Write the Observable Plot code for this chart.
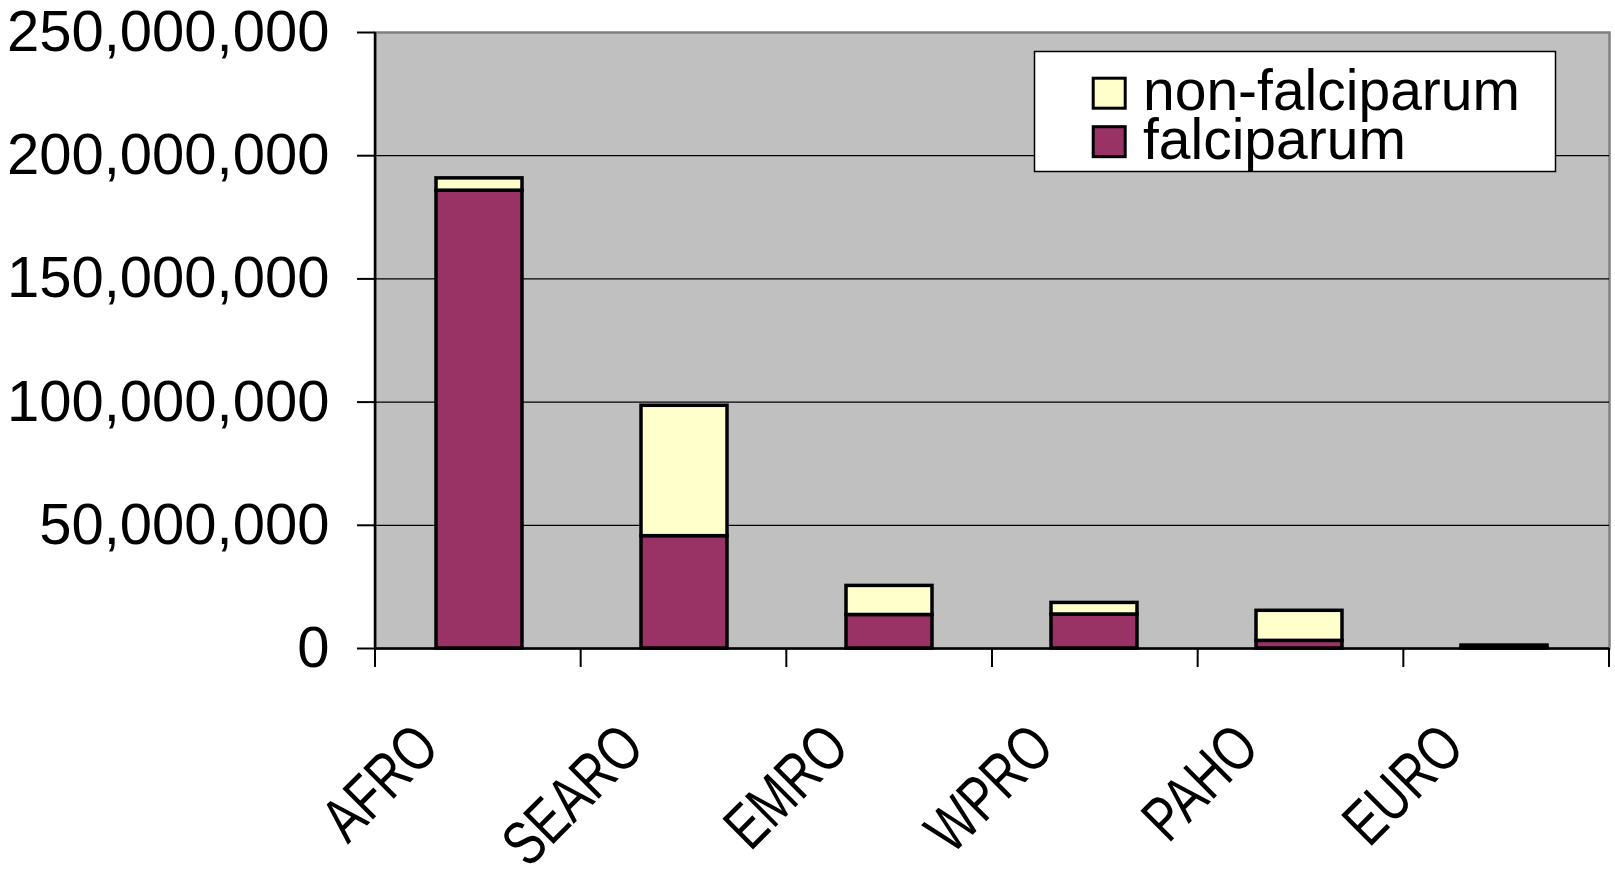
<!DOCTYPE html>
<html>
<head>
<meta charset="utf-8">
<script src="https://cdn.jsdelivr.net/npm/d3@7"></script>
<script src="https://cdn.jsdelivr.net/npm/@observablehq/plot@0.6"></script>
<style>
  html, body { margin: 0; padding: 0; background: #fff; }
  #chart svg { display: block; }
</style>
</head>
<body>
<div id="chart"></div>
<script>
// Estimated malaria cases by WHO region, split by parasite species
const regions = ["AFRO", "SEARO", "EMRO", "WPRO", "PAHO", "EURO"];
const falciparum = [185.8e6, 45.6e6, 13.6e6, 13.8e6, 3.1e6, 0.2e6];
const nonFalciparum = [5.0e6, 52.9e6, 11.8e6, 4.7e6, 12.2e6, 1.0e6];
const species = ["falciparum", "non-falciparum"];
const speciesColors = ["#993366", "#FFFFCC"];
const yTicks = [0, 50e6, 100e6, 150e6, 200e6, 250e6];
const legendOrder = ["non-falciparum", "falciparum"];

// long format table for the stacked bars
const rows = regions.flatMap((region, i) => [
  {region, species: species[0], cases: falciparum[i]},
  {region, species: species[1], cases: nonFalciparum[i]}
]);

const chart = Plot.plot({
  width: 1615,
  height: 875,
  marginTop: 32,
  marginBottom: 227,
  marginLeft: 375,
  marginRight: 6,
  style: {
    fontFamily: "'Liberation Sans', Arial, sans-serif",
    fontSize: "58px",
    background: "#fff",
    color: "#000"
  },
  x: {domain: regions, paddingInner: 0.58, paddingOuter: 0.29, label: null, axis: null},
  y: {domain: [0, 250e6], label: null, axis: null},
  color: {domain: species, range: speciesColors},
  marks: [
    Plot.frame({fill: "#c0c0c0", stroke: "#808080", strokeWidth: 2.5}),
    Plot.ruleY(yTicks.slice(1, -1), {stroke: "#000", strokeWidth: 1.2}),
    Plot.barY(rows, {x: "region", y: "cases", fill: "species", stroke: "#000", strokeWidth: 3.5}),
    Plot.ruleY([0], {stroke: "#000", strokeWidth: 2.5}),
    Plot.axisY({
      ticks: yTicks,
      tickFormat: d3.format(","),
      tickSize: 18,
      tickPadding: 28,
      strokeWidth: 2,
      fontSize: 58,
      label: null
    }),
    Plot.text(regions, {
      x: d => d,
      text: d => d,
      frameAnchor: "bottom",
      rotate: -45,
      textAnchor: "end",
      lineAnchor: "middle",
      dx: -52,
      dy: 88,
      fontSize: 63
    })
  ]
});

const svg = d3.select(chart);

// narrow the slanted category labels along their baseline
svg.selectAll('g[aria-label="text"] text').attr("transform", function () {
  return (this.getAttribute("transform") || "") + " scale(0.76,1)";
});

const xr = chart.scale("x").range;
const yr = chart.scale("y").range;
const x0 = Math.min(...xr), x1 = Math.max(...xr);
const yBottom = Math.max(...yr), yTop = Math.min(...yr);
const step = (x1 - x0) / regions.length;

// left value axis line and category separator ticks
const axes = svg.append("g").attr("stroke", "#000");
axes.append("line")
  .attr("x1", x0).attr("x2", x0)
  .attr("y1", yTop).attr("y2", yBottom + 1)
  .attr("stroke-width", 2.5);
axes.selectAll("line.sep")
  .data(d3.range(regions.length + 1))
  .join("line")
  .attr("class", "sep")
  .attr("x1", i => x0 + i * step).attr("x2", i => x0 + i * step)
  .attr("y1", yBottom).attr("y2", yBottom + 19)
  .attr("stroke-width", 2);

// legend box in the upper right of the plot area
const legend = svg.append("g").attr("text-anchor", "start");
legend.append("rect")
  .attr("x", 1034.5).attr("y", 51.5)
  .attr("width", 521).attr("height", 120)
  .attr("fill", "#fff").attr("stroke", "#000").attr("stroke-width", 1.5);
const items = legend.selectAll("g.item")
  .data(legendOrder)
  .join("g")
  .attr("class", "item")
  .attr("transform", (d, i) => `translate(0, ${i * 48.5})`);
items.append("rect")
  .attr("x", 1093.2).attr("y", 78.2)
  .attr("width", 32).attr("height", 30)
  .attr("fill", d => speciesColors[species.indexOf(d)])
  .attr("stroke", "#000").attr("stroke-width", 3);
items.append("text")
  .attr("x", 1143).attr("y", 110)
  .attr("text-anchor", "start")
  .attr("font-size", 57)
  .attr("fill", "#000")
  .text(d => d);

document.getElementById("chart").append(chart);
</script>
</body>
</html>
